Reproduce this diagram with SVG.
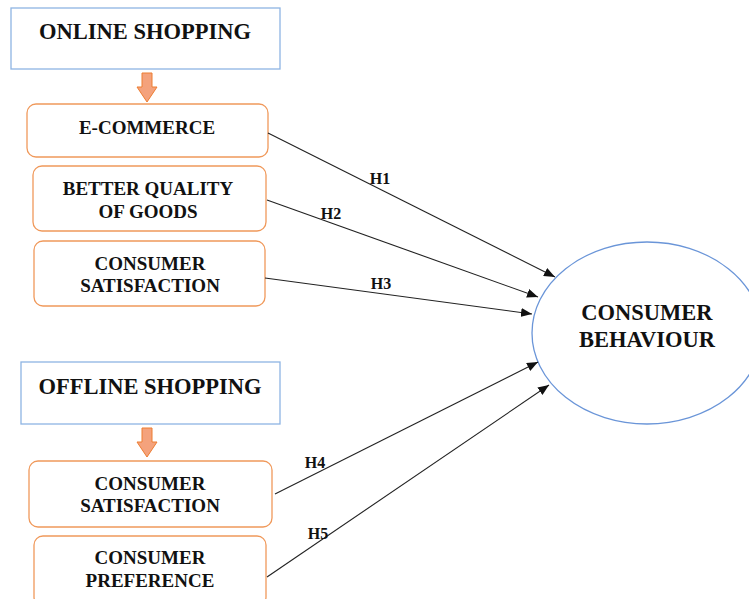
<svg xmlns="http://www.w3.org/2000/svg" width="749" height="599" viewBox="0 0 749 599">
<style>
.hdr{fill:#fff;stroke:#8EB4E3;stroke-width:1.3}
.box{fill:#fff;stroke:#F0995B;stroke-width:1.3}
.t{font-family:"Liberation Serif","Times New Roman",serif;font-weight:bold;fill:#111;text-anchor:middle}
.t18{font-size:19px}
.t21{font-size:22.5px}
.lbl{font-size:16px}
.con{stroke:#222;stroke-width:1.1;fill:none;marker-end:url(#ah)}
.blk{fill:#F4A27C;stroke:#ED7D31;stroke-width:1}
</style>
<defs>
<marker id="ah" markerUnits="userSpaceOnUse" markerWidth="11" markerHeight="9" refX="11" refY="4.5" orient="auto">
<path d="M0,0 L11,4.5 L0,9 z" fill="#111"/>
</marker>
</defs>
<rect width="749" height="599" fill="#fff"/>
<g id="online">
<rect class="hdr" x="11" y="8" width="269" height="61"/>
<text class="t t21" x="145" y="38.5">ONLINE SHOPPING</text>
</g>
<g id="arrow-online">
<path class="blk" d="M142,73 H152 V87 H157 L147,102 L137,87 H142 Z"/>
</g>
<g id="ecommerce">
<rect class="box" x="27" y="104" width="241" height="53" rx="9"/>
<text class="t t18" x="147" y="133.5">E-COMMERCE</text>
</g>
<g id="quality">
<rect class="box" x="33" y="166" width="233" height="65" rx="9"/>
<text class="t t18" x="148" y="194.5">BETTER QUALITY</text>
<text class="t t18" x="148" y="217.5">OF GOODS</text>
</g>
<g id="satisfaction-online">
<rect class="box" x="34" y="241" width="231" height="65" rx="9"/>
<text class="t t18" x="150" y="269.5">CONSUMER</text>
<text class="t t18" x="150" y="291.5">SATISFACTION</text>
</g>
<g id="offline">
<rect class="hdr" x="21" y="362" width="259" height="62"/>
<text class="t t21" x="150" y="393.5">OFFLINE SHOPPING</text>
</g>
<g id="arrow-offline">
<path class="blk" d="M142,428 H152 V442 H157 L147,457 L137,442 H142 Z"/>
</g>
<g id="satisfaction-offline">
<rect class="box" x="29" y="461" width="243" height="66" rx="9"/>
<text class="t t18" x="150" y="489.5">CONSUMER</text>
<text class="t t18" x="150" y="511.5">SATISFACTION</text>
</g>
<g id="preference">
<rect class="box" x="34" y="536" width="232" height="70" rx="9"/>
<text class="t t18" x="150" y="563.5">CONSUMER</text>
<text class="t t18" x="150" y="586.5">PREFERENCE</text>
</g>
<g id="behaviour">
<ellipse cx="647" cy="333" rx="115" ry="91" fill="#fff" stroke="#6A95D8" stroke-width="1.3"/>
<text class="t t21" x="647" y="320">CONSUMER</text>
<text class="t t21" x="647" y="347">BEHAVIOUR</text>
</g>
<g id="connectors">
<line class="con" x1="268" y1="133" x2="555" y2="277"/>
<line class="con" x1="267" y1="200" x2="538" y2="297"/>
<line class="con" x1="265" y1="278" x2="532" y2="314"/>
<line class="con" x1="275" y1="494" x2="538" y2="362"/>
<line class="con" x1="267" y1="577" x2="549" y2="385"/>
<text class="t lbl" x="380" y="183.5">H1</text>
<text class="t lbl" x="331" y="218.5">H2</text>
<text class="t lbl" x="381" y="288.5">H3</text>
<text class="t lbl" x="315" y="467.5">H4</text>
<text class="t lbl" x="318" y="538.5">H5</text>
</g>
</svg>
